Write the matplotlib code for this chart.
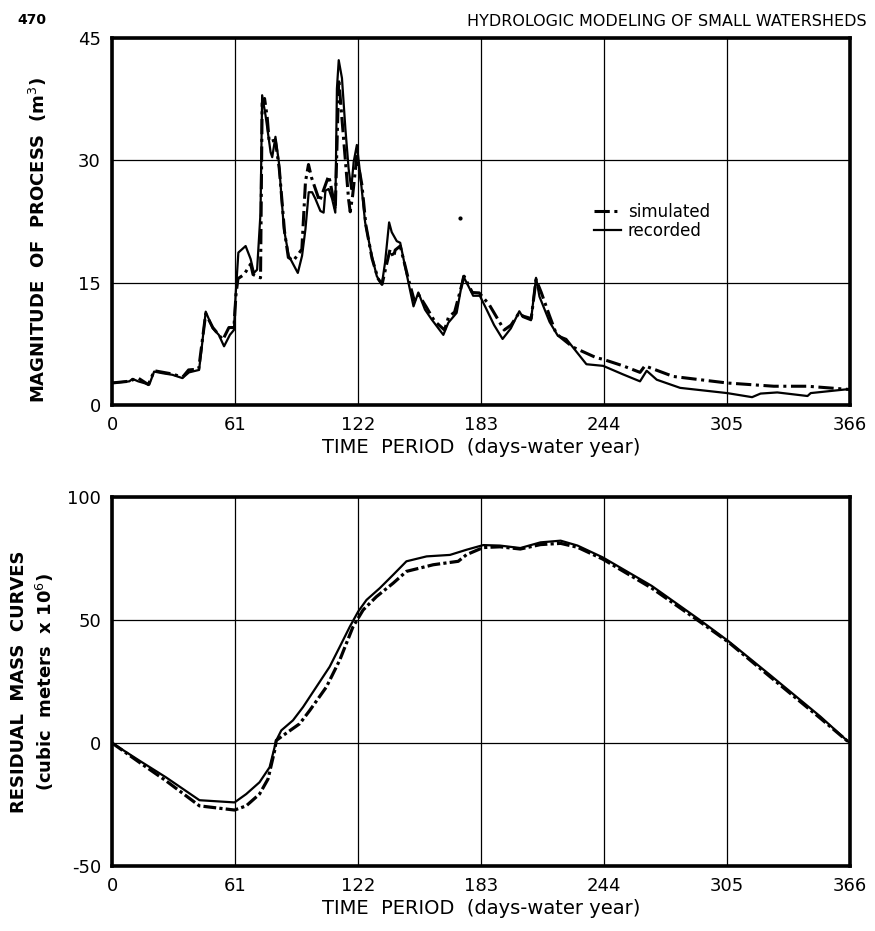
import matplotlib
matplotlib.use("Agg")
import matplotlib.pyplot as plt

plt.rcParams["font.family"] = ["DejaVu Sans"]
plt.rcParams["axes.unicode_minus"] = False

# ---- top chart: daily flow, recorded vs simulated ----
rec_days = [0, 8.6, 10.2, 13, 18.5, 20.9, 25, 30, 34.9, 38.2, 43.2, 44.5, 46.5, 50, 53,
            55.6, 58.5, 60.5, 61.3, 62.7, 66.3, 68.8, 70.4, 72, 73.7, 74.5, 76.2, 78.7,
            79.5, 81.1, 82.8, 85.3, 87.7, 92.2, 94.3, 96, 97.6, 99.3, 100.9, 103.4, 105,
            105.9, 107.5, 109.2, 110.8, 111.6, 112.5, 114.1, 115.8, 117.4, 118.7, 119.9,
            121.5, 123.2, 125.6, 128.9, 131.4, 133.9, 135.5, 137.5, 138.8, 141.3, 143,
            147.1, 149.6, 152, 155.3, 158.6, 164.4, 166.9, 171, 174.3, 176.8, 179.2,
            182.5, 185.5, 189.6, 193.8, 197.9, 202.1, 203.8, 207.9, 210.4, 212.1, 217.1,
            221.2, 225.4, 235.4, 243.7, 253.6, 262, 265.3, 270.3, 281.9, 305.2, 317.6,
            321.8, 330.1, 345.1, 346.7, 366]
rec_vals = [2.7, 2.9, 3.2, 2.9, 2.5, 4.1, 3.9, 3.7, 3.3, 4.0, 4.3, 7.0, 11.45, 9.4, 8.6,
            7.2, 8.6, 9.2, 13.3, 18.7, 19.5, 17.9, 16.2, 16.6, 23.6, 38.0, 35.5, 31.0,
            30.4, 32.9, 29.8, 21.6, 18.3, 16.2, 18.3, 21.6, 26.1, 26.1, 25.3, 23.8, 23.6,
            26.3, 26.5, 25.3, 23.6, 38.8, 42.3, 40.1, 33.9, 29.0, 26.5, 29.8,
            31.9, 28.2, 22.4, 18.3, 15.8, 14.8, 17.5, 22.4, 21.2, 20.1, 19.9,
            15.0, 12.1, 13.8, 11.7, 10.5, 8.6, 10.1, 11.3, 15.8, 14.6, 13.4,
            13.4, 11.9, 9.8, 8.1, 9.4, 11.5, 10.8, 10.4, 15.6, 13.3, 10.2,
            8.5, 8.1, 5.0, 4.8, 3.75, 2.9, 4.2, 3.1, 2.1, 1.46, 0.96,
            1.4, 1.54, 1.1, 1.46, 1.96]

sim_days = [0, 8, 13, 18, 21, 30, 35, 38, 43, 46.5, 50, 55, 58, 60.5, 61.5, 62.5, 65.5,
            68.8, 70, 73.7, 74.5, 75.7, 77, 78, 81, 83, 85.6, 87.5, 90, 94.2, 96, 97.5,
            99, 103, 107.5, 108.3, 110.8, 112.5, 115.2, 117.4, 118.2, 119.4, 121.5, 124,
            126, 129, 132, 134, 136, 138, 139.7, 140.5, 143, 147, 150, 152, 156, 160,
            165, 167, 170, 174.7, 178.8, 182.2, 187.2, 194.6, 198, 202, 204, 208, 210.4,
            213, 217, 220.4, 228.7, 240.3, 243.7, 253.6, 262, 264.4, 278.5, 305.2,
            328.4, 345.1, 366]
sim_vals = [2.7, 2.9, 3.3, 2.5, 4.2, 3.8, 3.4, 4.3, 4.4, 11.2, 9.5, 8.0, 9.5, 9.5, 13.5,
            15.5, 16.0, 17.3, 16.0, 15.6, 37.0, 37.6, 35.3, 32.3, 32.5, 29.0, 21.3, 18.1,
            17.7, 19.1, 27.4, 29.5, 27.9, 25.0, 28.1, 27.3, 24.0, 40.0, 31.8, 25.2, 23.7,
            25.7, 30.5, 27.0, 22.0, 18.0, 15.5, 14.8, 17.0, 19.1, 18.1, 19.0, 19.5, 15.5,
            12.8, 13.6, 12.0, 10.3, 9.2, 10.8, 11.4, 15.8, 13.8, 13.75, 12.3, 9.2, 9.8,
            11.3, 10.9, 10.6, 15.4, 13.8, 11.0, 8.75, 7.1, 5.8, 5.6, 4.8, 4.0, 4.8, 3.5,
            2.7, 2.3, 2.3, 1.9]
stray_days = [172.7]
stray_vals = [23.0]

# ---- bottom chart: residual mass curves ----
mass_rec_days = [0, 13.6, 26.8, 43.4, 60.8, 66.6, 73.2, 78.2, 81.5, 84, 89.8, 94.8, 101.4,
                 108, 113, 118, 122.1, 126.3, 132.9, 139.5, 146.1, 156.1, 167.7, 175.9,
                 184.2, 192.5, 202.6, 212.6, 222.6, 231, 243.5, 267.8, 291.2, 305.9, 326.3,
                 351.4, 366]
mass_rec_vals = [0, -7.2, -14, -23.3, -24.2, -20.8, -16, -9.9, 1, 5.1, 9.2, 14.6, 22.8,
                 31, 39.1, 47.3, 53.4, 58.2, 63, 68.4, 73.9, 75.9, 76.5, 78.6,
                 80.5, 80.3, 79.3, 81.6, 82.3, 80.3, 75.5, 63.9, 50.3, 41.4, 27.8,
                 10.8, 0]
mass_sim_days = [0, 13.6, 26.8, 43.4, 60.8, 66.6, 73.2, 77.4, 80.7, 81.5, 84.8, 93.1, 98.1,
                 106.4, 113, 119.6, 124.6, 131.2, 139.5, 146.1, 159.4, 171.8, 175.9, 184.2,
                 192.5, 202.6, 212.6, 222.6, 231, 243.5, 267.8, 291.2, 305.9, 326.3, 351.4,
                 366]
mass_sim_vals = [0, -7.9, -15.4, -25.6, -27.3, -25.6, -20.8, -14.7, -3.1, 1, 3, 7.8, 13.2,
                 22.8, 33.7, 47.3, 54.1, 59.5, 65, 69.8, 72.5, 73.9, 76.6, 79.5,
                 79.8, 78.9, 80.7, 81.2, 79.6, 74.8, 63, 49.6, 41, 27.1, 10.1,
                 0]

day_ticks = [0, 61, 122, 183, 244, 305, 366]
top_ticks = [0, 15, 30, 45]
bot_ticks = [-50, 0, 50, 100]

fig = plt.figure(figsize=(8.75, 9.31), dpi=100)
ax1 = fig.add_axes([0.128, 0.565, 0.843, 0.394])
ax2 = fig.add_axes([0.128, 0.070, 0.843, 0.396])

fig.text(0.02, 0.978, "470", fontsize=10, fontweight="bold", va="center")
fig.text(0.99, 0.977, "HYDROLOGIC MODELING OF SMALL WATERSHEDS", fontsize=11.5,
         ha="right", va="center", fontweight="medium")


def style_axes(ax, yticks):
    ax.set_xlim(0, 366)
    ax.set_ylim(yticks[0], yticks[-1])
    ax.set_xticks(day_ticks)
    ax.set_yticks(yticks)
    ax.grid(True, color="black", linewidth=0.9)
    ax.tick_params(length=0, labelsize=13, pad=8)
    for sp in ax.spines.values():
        sp.set_linewidth(2.6)
    ax.set_xlabel("TIME  PERIOD  (days-water year)", fontsize=14, labelpad=3)


style_axes(ax1, top_ticks)
ax1.plot(sim_days, sim_vals, color="black", lw=2.2, ls=(0, (5, 1.5, 1, 1.5)), label="simulated")
ax1.plot(rec_days, rec_vals, color="black", lw=1.6, label="recorded")
ax1.plot(stray_days, stray_vals, "k.", ms=4)
ax1.set_ylabel("MAGNITUDE  OF  PROCESS  (m$^3$)", fontsize=13, fontweight="bold", labelpad=10)
ax1.yaxis.set_label_coords(-0.085, 0.45)
ax1.legend(loc="upper left", bbox_to_anchor=(0.645, 0.57), frameon=False, fontsize=12,
           handlelength=1.6, handletextpad=0.4, labelspacing=0.1, borderaxespad=0)

style_axes(ax2, bot_ticks)
ax2.plot(mass_rec_days, mass_rec_vals, color="black", lw=1.6)
ax2.plot(mass_sim_days, mass_sim_vals, color="black", lw=2.3, ls=(0, (4, 1, 1, 1)))
ax2.set_ylabel("RESIDUAL  MASS  CURVES\n(cubic  meters  x 10$^6$)", fontsize=13,
               fontweight="bold", labelpad=8, linespacing=1.3)

fig.savefig("out.png", dpi=100)
